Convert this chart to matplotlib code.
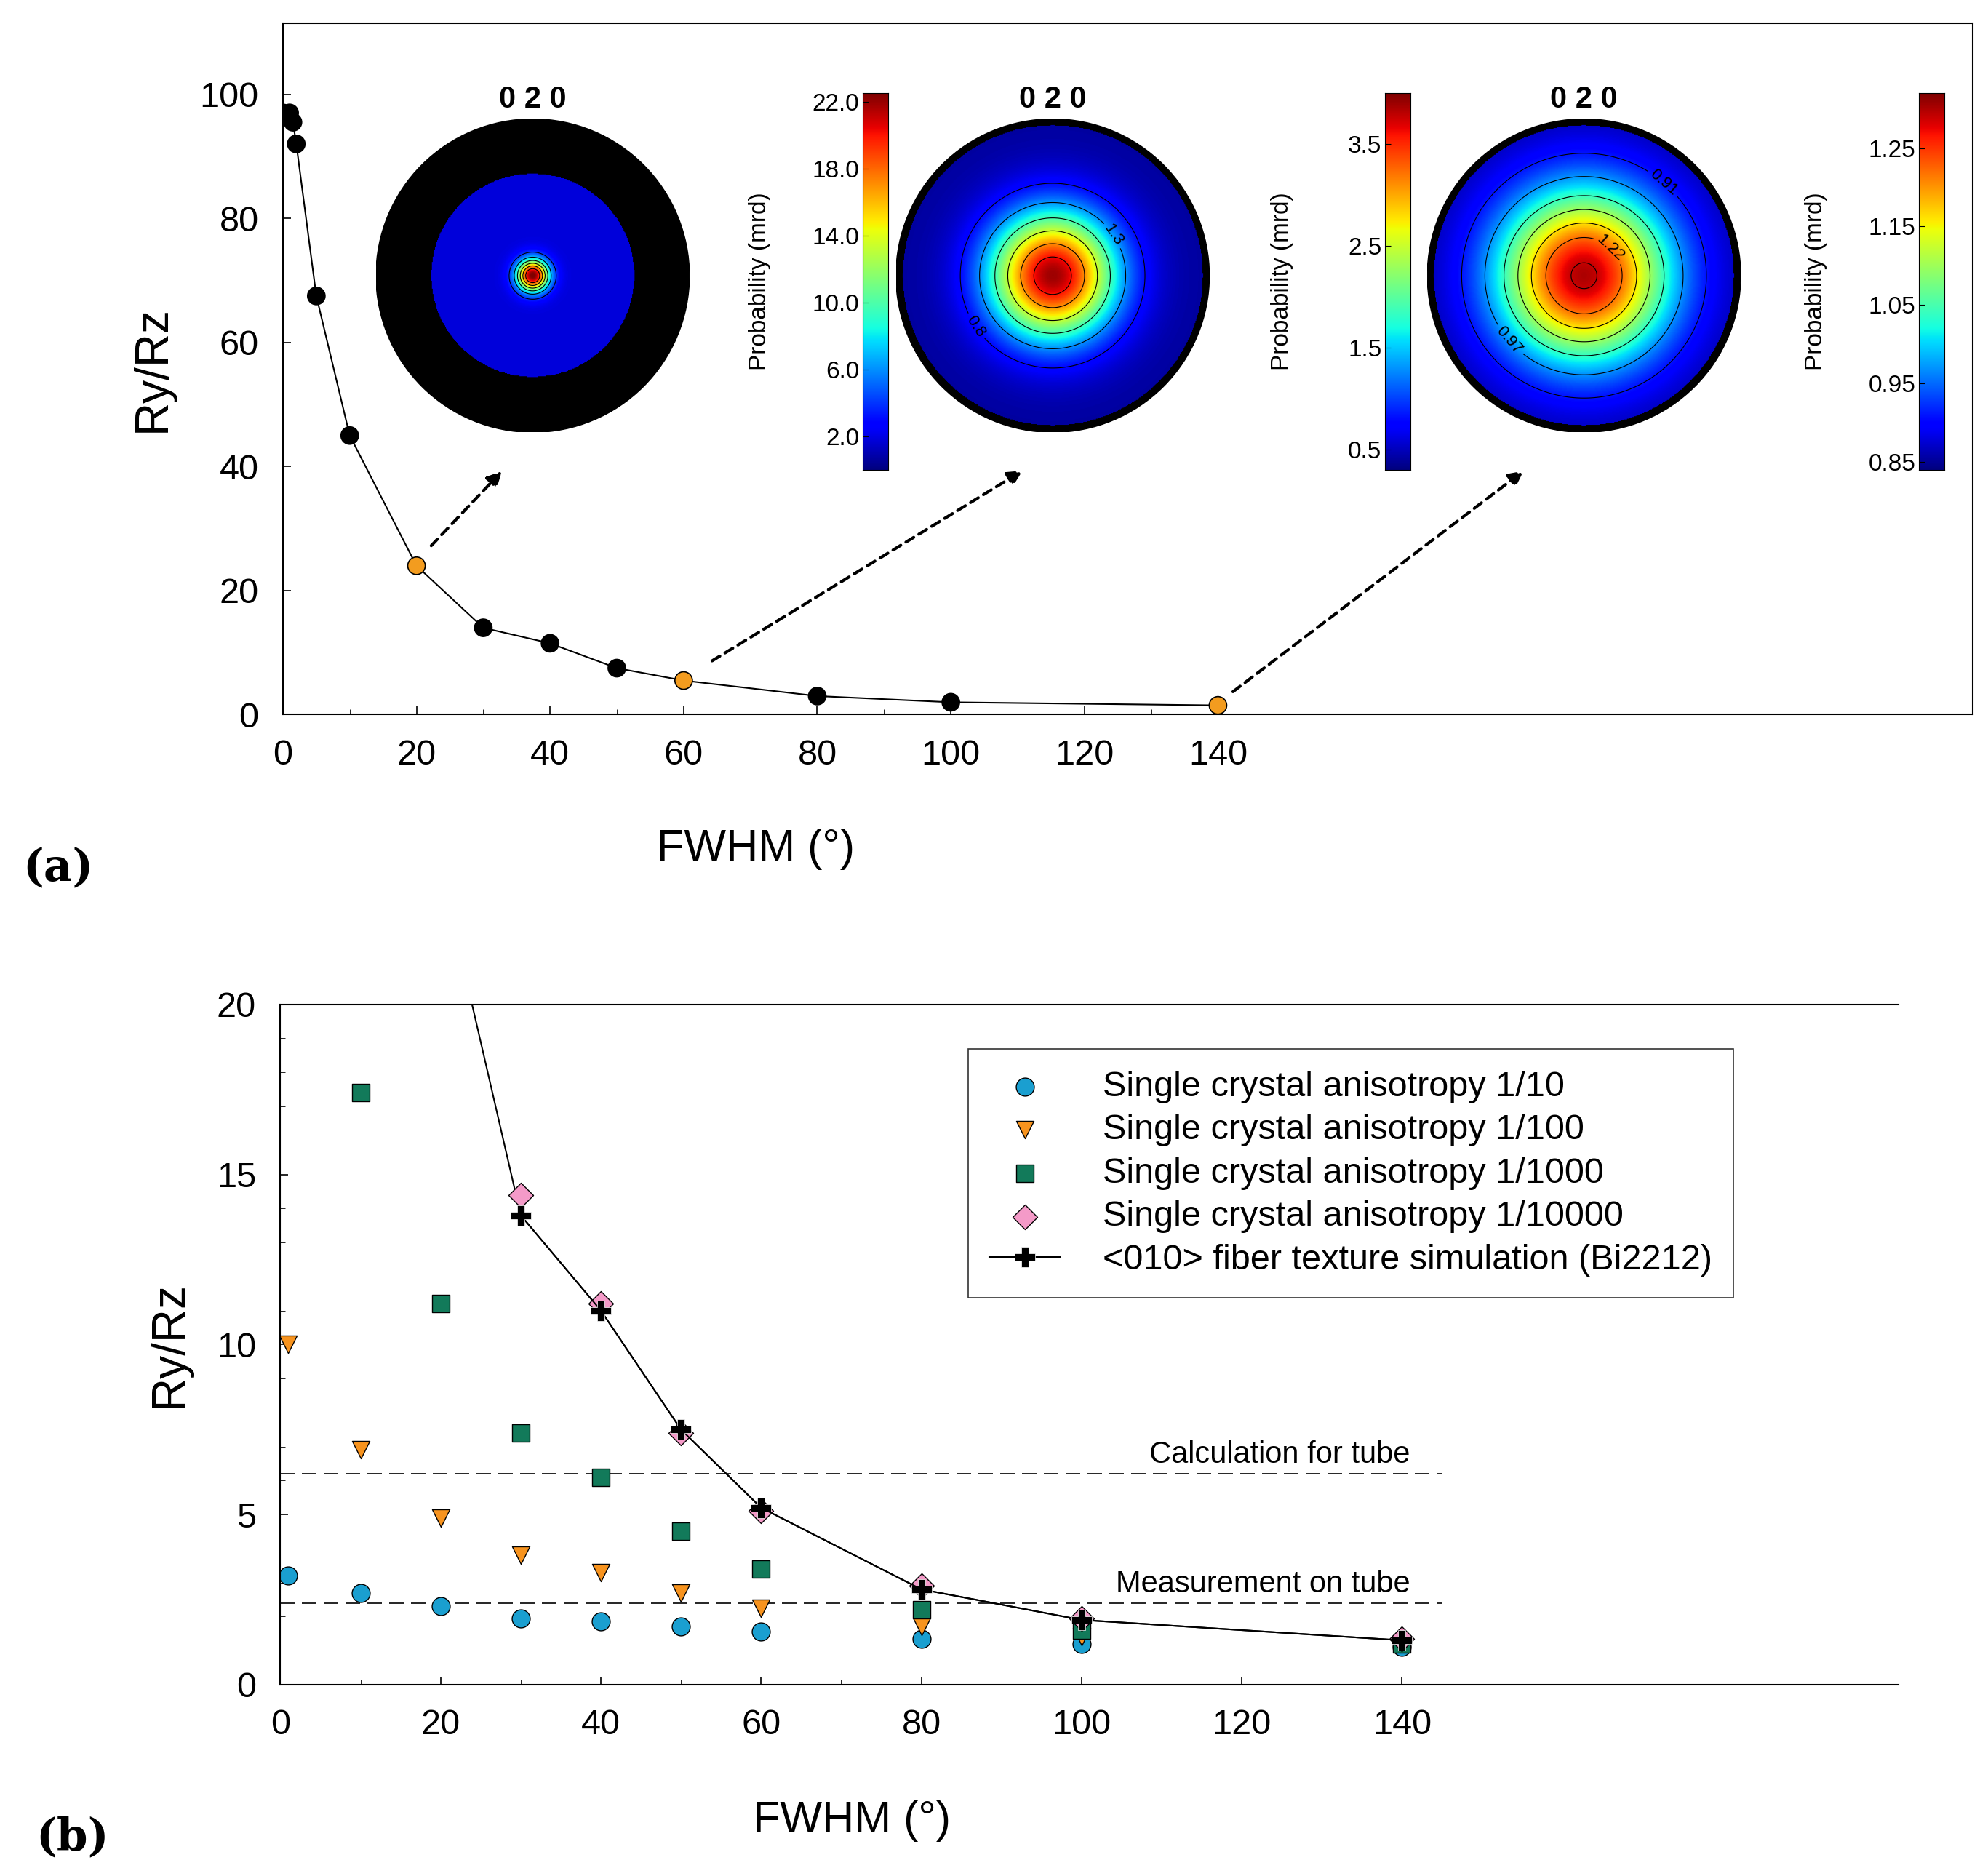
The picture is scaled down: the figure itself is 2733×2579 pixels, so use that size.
import numpy as np
import matplotlib.pyplot as plt
import matplotlib.colors as mcolors

# panel (a) data
fwhm_a = [0, 1, 1.5, 2, 5, 10, 20, 30, 40, 50, 60, 80, 100, 140]
ratio_a = [97, 97, 95.5, 92, 67.5, 45, 24, 14, 11.5, 7.5, 5.5, 3, 2, 1.5]
orange_a = [20, 60, 140]

# panel (b) data
fwhm_10 = [1, 10, 20, 30, 40, 50, 60, 80, 100, 140]
ratio_10 = [3.2, 2.7, 2.3, 1.95, 1.85, 1.7, 1.55, 1.35, 1.2, 1.1]
fwhm_100 = [1, 10, 20, 30, 40, 50, 60, 80, 100, 140]
ratio_100 = [10, 6.9, 4.9, 3.8, 3.3, 2.7, 2.25, 1.7, 1.4, 1.2]
fwhm_1000 = [10, 20, 30, 40, 50, 60, 80, 100, 140]
ratio_1000 = [17.4, 11.2, 7.4, 6.1, 4.5, 3.4, 2.2, 1.6, 1.2]
fwhm_10000 = [30, 40, 50, 60, 80, 100, 140]
ratio_10000 = [14.4, 11.2, 7.4, 5.1, 2.9, 1.95, 1.35]
fwhm_fib = [20, 30, 40, 50, 60, 80, 100, 140]
ratio_fib = [24, 13.8, 11, 7.5, 5.2, 2.8, 1.9, 1.3]
calc_tube = 6.2
meas_tube = 2.4

# pole figure colour bars
cb_ticks = [[2.0, 6.0, 10.0, 14.0, 18.0, 22.0], [0.5, 1.5, 2.5, 3.5], [0.85, 0.95, 1.05, 1.15, 1.25]]
cb_range = [(0, 22.5), (0.3, 4.0), (0.84, 1.32)]

plt.rcParams["font.family"] = "Liberation Sans"
W, H = 1560.0, 1470.0
fig = plt.figure(figsize=(27.33, 25.79), dpi=100)


def px(x0, y0, x1, y1):
    return [x0 / W, 1 - y1 / H, (x1 - x0) / W, (y1 - y0) / H]


# ---------- panel (a)
ax = fig.add_axes(px(222, 18, 1548, 560))
ax.plot(fwhm_a, ratio_a, color="black", lw=1.5, zorder=1)
cols = ["#f39c1f" if f in orange_a else "black" for f in fwhm_a]
ax.scatter(fwhm_a, ratio_a, s=300, c=cols, edgecolors="black", lw=1.2, zorder=2)
ax.set_xlim(0, 253)
ax.set_ylim(0, 111.5)
ax.set_xticks([0, 20, 40, 60, 80, 100, 120, 140])
ax.set_xticks(np.arange(0, 141, 10), minor=True)
ax.set_yticks([0, 20, 40, 60, 80, 100])
ax.tick_params(labelsize=35, length=8, width=1.2, direction="in", pad=24)
ax.tick_params(which="minor", length=5, direction="in")
ax.set_xlabel("FWHM (°)", fontsize=44)
ax.xaxis.set_label_coords(0.28, -0.165)
ax.set_ylabel("Ry/Rz", fontsize=46, labelpad=25)
for s in ax.spines.values():
    s.set_linewidth(1.5)
for (x0, y0, x1, y1) in [(22, 27, 33, 39.5), (64, 8.5, 111, 39.5), (142, 3.5, 186, 39.5)]:
    ax.annotate("", xy=(x1, y1), xytext=(x0, y0),
                arrowprops=dict(arrowstyle="-|>", ls=(0, (3, 2)), lw=3, color="black", mutation_scale=30))
fig.text(18 / W, 1 - 680 / H, "(a)", fontsize=44, fontweight="bold", family="DejaVu Serif", va="center")

# ---------- pole figures
g = np.linspace(-1, 1, 400)
X, Y = np.meshgrid(g, g)
R = np.hypot(X, Y)
fields = [1.8 + 21 * np.exp(-(R / 0.1) ** 2),
          0.4 + 3.5 * np.exp(-(R / 0.4) ** 2),
          0.85 + 0.45 * np.exp(-(R / 0.55) ** 2)]
levels = [[4, 7, 10, 13, 16, 19], [0.8, 1.3, 1.9, 2.5, 3.1, 3.6], [0.91, 0.97, 1.04, 1.1, 1.16, 1.22, 1.29]]
label_lv = [[], [0.8, 1.3], [0.91, 0.97, 1.22, 1.29]]
centers = [418, 826, 1243]
cbx = [677, 1087, 1506]
cmap = plt.get_cmap("jet")
for i in range(3):
    cx, cy, r = centers[i], 216, 123
    pa = fig.add_axes(px(cx - r, cy - r, cx + r, cy + r))
    norm = mcolors.Normalize(*cb_range[i])
    inner = 0.65 if i == 0 else 0.96
    Zi = np.ma.masked_where(R > inner, fields[i])
    pa.add_patch(plt.Circle((0, 0), 1, color="black"))
    pa.imshow(Zi, extent=(-1, 1, -1, 1), origin="lower", cmap=cmap, norm=norm, zorder=2)
    cs = pa.contour(X, Y, Zi, levels=levels[i], colors="black", linewidths=0.8, zorder=3)
    if label_lv[i]:
        pa.clabel(cs, levels=label_lv[i], fontsize=16, fmt="%g")
    pa.set_xlim(-1, 1)
    pa.set_ylim(-1, 1)
    pa.axis("off")
    fig.text(cx / W, 1 - 78 / H, "0 2 0", fontsize=30, fontweight="bold", ha="center", va="center")
    # colour bar
    ca = fig.add_axes(px(cbx[i], 73, cbx[i] + 20, 368))
    cvals = np.linspace(*cb_range[i], 256)
    ca.imshow(cvals[:, None], extent=(0, 1, cb_range[i][0], cb_range[i][1]), origin="lower",
              cmap=cmap, norm=norm, aspect="auto")
    ca.set_xticks([])
    ca.set_yticks(cb_ticks[i])
    ca.set_yticklabels(["%.2f" % t if i == 2 else "%.1f" % t for t in cb_ticks[i]])
    ca.tick_params(labelsize=24, length=6, direction="in")
    ca.set_ylabel("Probability (mrd)", fontsize=24)
    ca.yaxis.set_label_coords(-3.6, 0.5)

# ---------- panel (b)
bx = fig.add_axes(px(220, 787, 1490, 1320))
bx.plot(fwhm_fib, ratio_fib, color="black", lw=1.5, zorder=1)
bx.scatter(fwhm_10, ratio_10, s=320, marker="o", c="#1a9fd0", edgecolors="black", lw=1, zorder=2,
           label="Single crystal anisotropy 1/10")
bx.scatter(fwhm_100, ratio_100, s=300, marker="v", c="#f7931e", edgecolors="black", lw=1, zorder=2,
           label="Single crystal anisotropy 1/100")
bx.scatter(fwhm_1000, ratio_1000, s=280, marker="s", c="#127a5a", edgecolors="black", lw=1, zorder=2,
           label="Single crystal anisotropy 1/1000")
bx.scatter(fwhm_10000, ratio_10000, s=300, marker="D", c="#f49ac8", edgecolors="black", lw=1, zorder=3,
           label="Single crystal anisotropy 1/10000")
bx.plot(fwhm_fib[1:], ratio_fib[1:], color="black", lw=1.5, marker="P", ms=20, mfc="black",
        mec="white", mew=0.5, zorder=4, label="<010> fiber texture simulation (Bi2212)")
bx.plot([0, 145], [calc_tube, calc_tube], color="black", lw=1.2, ls=(0, (12, 6)), zorder=0)
bx.plot([0, 145], [meas_tube, meas_tube], color="black", lw=1.2, ls=(0, (12, 6)), zorder=0)
bx.text(141, calc_tube + 0.12, "Calculation for tube", fontsize=30, ha="right", va="bottom")
bx.text(141, meas_tube + 0.12, "Measurement on tube", fontsize=30, ha="right", va="bottom")
bx.set_xlim(0, 202)
bx.set_ylim(0, 20)
bx.set_xticks([0, 20, 40, 60, 80, 100, 120, 140])
bx.set_xticks(np.arange(0, 141, 10), minor=True)
bx.set_yticks([0, 5, 10, 15, 20])
bx.set_yticks(np.arange(0, 20.1, 1), minor=True)
bx.tick_params(labelsize=35, length=8, width=1.2, direction="in", pad=24)
bx.tick_params(which="minor", length=5, direction="in")
bx.spines["right"].set_visible(False)
for s in bx.spines.values():
    s.set_linewidth(1.5)
bx.set_xlabel("FWHM (°)", fontsize=44)
bx.xaxis.set_label_coords(0.353, -0.17)
bx.set_ylabel("Ry/Rz", fontsize=46, labelpad=25)
leg = bx.legend(loc="upper left", bbox_to_anchor=(0.414, 0.96), fontsize=35, frameon=True,
                fancybox=False, edgecolor="black", borderpad=0.6, labelspacing=0.3, handletextpad=1.2)
leg.get_frame().set_linewidth(1.2)
fig.text(28 / W, 1 - 1440 / H, "(b)", fontsize=44, fontweight="bold", family="DejaVu Serif", va="center")

fig.savefig("out.png", dpi=100)
